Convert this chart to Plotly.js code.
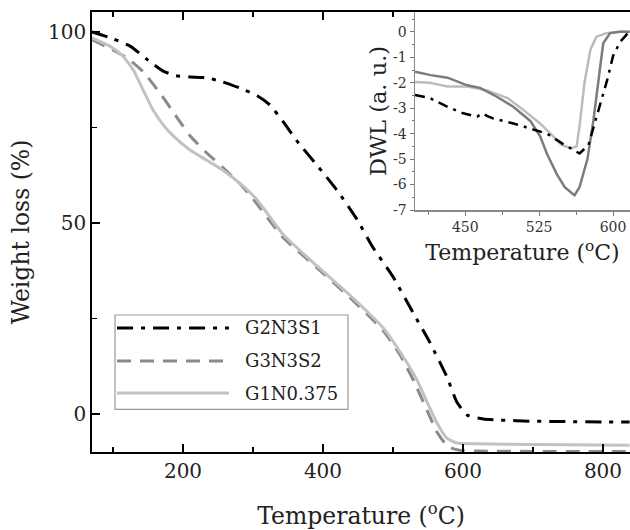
<!DOCTYPE html>
<html>
<head>
<meta charset="utf-8">
<script src="https://cdn.plot.ly/plotly-3.0.1.min.js"></script>
<style>html,body{margin:0;padding:0;background:#fff;}</style>
</head>
<body>
<div id="chart" style="width:630px;height:530px;"></div>
<script>
// ---- Series names ----
const seriesNames = ["G2N3S1", "G3N3S2", "G1N0.375"];

// ---- Main TGA curves: temperature (°C) and weight loss (%) ----
const g2n3s1T = [70, 100, 125, 150, 171, 190, 210, 234, 257, 281, 306, 324, 343, 363, 391, 421, 449, 471, 500, 529, 553, 577, 591, 606, 629, 653, 700, 750, 800, 838];
const g2n3s1W = [100, 98.2, 96.2, 92.6, 89.8, 88.5, 88.2, 88, 86.9, 85.3, 83.3, 80.9, 76.5, 71.4, 65.2, 58.3, 50.8, 43.7, 35.9, 26.4, 18.6, 9.7, 3.2, -0.3, -1.3, -1.6, -1.9, -2.0, -2.1, -2.1];

const g3n3s2T = [70, 96, 120, 143, 167, 191, 210, 234, 257, 281, 300, 343, 391, 439, 486, 510, 530, 549, 563, 574, 582, 595, 620, 700, 838];
const g3n3s2W = [98, 95.6, 93.2, 89.6, 84, 77.7, 72.8, 68.3, 64.5, 60.3, 56.3, 46.2, 38.3, 30.4, 21.8, 15.5, 8.5, 0.8, -4.8, -7.6, -8.8, -9.5, -9.7, -9.8, -9.8];

const g1n0375T = [70, 96, 114, 129, 143, 157, 172, 186, 210, 234, 257, 286, 306, 343, 391, 439, 486, 510, 534, 549, 563, 577, 591, 620, 700, 838];
const g1n0375W = [98.4, 96.2, 93.7, 90, 84.8, 79.6, 75.6, 72.8, 69.1, 66.4, 63.8, 59.6, 56, 47, 38.8, 31, 22.5, 16.3, 9, 3, -2.4, -6.3, -7.6, -7.8, -8.0, -8.2];

// ---- Inset DWL curves ----
const dwlG2n3s1T = [399, 414, 432, 448, 462, 468, 472, 478, 499, 516, 533, 549, 563, 566, 575, 580, 587, 594, 600, 607, 615, 617];
const dwlG2n3s1D = [-2.48, -2.6, -2.95, -3.2, -3.33, -3.2, -3.3, -3.4, -3.6, -3.8, -4.0, -4.4, -4.72, -4.78, -4.45, -3.8, -2.8, -1.9, -0.95, -0.4, -0.05, 0];

const dwlG3n3s2T = [399, 415, 432, 452, 465, 482, 499, 516, 526, 533, 543, 551, 558, 561, 566, 574, 580, 585, 590, 597, 607, 617];
const dwlG3n3s2D = [-1.57, -1.7, -1.8, -2.1, -2.2, -2.55, -2.95, -3.5, -4.1, -4.8, -5.6, -6.1, -6.33, -6.42, -6.1, -5.0, -3.5, -1.9, -0.45, -0.05, 0, 0];

const dwlG1n0375T = [399, 414, 432, 452, 472, 493, 509, 526, 539, 548, 558, 563, 566, 571, 577, 583, 593, 607, 617];
const dwlG1n0375D = [-1.97, -2.0, -2.15, -2.15, -2.3, -2.6, -3.07, -3.6, -4.1, -4.45, -4.57, -4.5, -3.7, -2.0, -0.7, -0.2, -0.05, 0, 0];

// ---- Tick labels ----
const mainXTicks = [200, 400, 600, 800];
const mainYTicks = [0, 50, 100];
const insetXTicks = [450, 525, 600];
const insetYTicks = [0, -1, -2, -3, -4, -5, -6, -7];
const insetYTickText = ["0", "-1", "-2", "-3", "-4", "-5", "-6", "-7"];

const FONT = "DejaVu Serif, Liberation Serif, serif";
const colBlack = "#000000", colMid = "#8a8a8a", colLight = "#c2c2c2";
const colInsetDark = "#7c7c7c", colInsetLight = "#bcbcbc";
const dashDot = "16px,8px,4px,8px";
const dashed = "14px,9px";

const traces = [
  {x: g2n3s1T, y: g2n3s1W, mode: "lines", line: {color: colBlack, width: 3, dash: dashDot, shape: "spline", smoothing: 0.5}, name: seriesNames[0], xaxis: "x", yaxis: "y"},
  {x: g3n3s2T, y: g3n3s2W, mode: "lines", line: {color: colMid, width: 3, dash: dashed, shape: "spline", smoothing: 0.5}, name: seriesNames[1], xaxis: "x", yaxis: "y"},
  {x: g1n0375T, y: g1n0375W, mode: "lines", line: {color: colLight, width: 3, shape: "spline", smoothing: 0.5}, name: seriesNames[2], xaxis: "x", yaxis: "y"},
  {x: dwlG1n0375T, y: dwlG1n0375D, mode: "lines", line: {color: colInsetLight, width: 2.5}, name: seriesNames[2], xaxis: "x2", yaxis: "y2"},
  {x: dwlG3n3s2T, y: dwlG3n3s2D, mode: "lines", line: {color: colInsetDark, width: 2.5}, name: seriesNames[1], xaxis: "x2", yaxis: "y2"},
  {x: dwlG2n3s1T, y: dwlG2n3s1D, mode: "lines", line: {color: colBlack, width: 2.5, dash: "10px,6px,3px,6px"}, name: seriesNames[0], xaxis: "x2", yaxis: "y2"}
];

// custom legend geometry (paper coordinates)
const legY = [0.282, 0.207, 0.134];
const legDash = [dashDot, dashed, "solid"];
const legColor = [colBlack, colMid, colLight];
const shapes = [
  {type: "rect", xref: "paper", yref: "paper", x0: 0.0428, x1: 0.4758, y0: 0.097, y1: 0.3114, line: {color: "#999", width: 1.2}, fillcolor: "#ffffff", layer: "above"}
];
const annotations = [];
for (let i = 0; i < seriesNames.length; i++) {
  shapes.push({type: "line", xref: "paper", yref: "paper", x0: 0.0465, x1: 0.2545, y0: legY[i], y1: legY[i], line: {color: legColor[i], width: 3, dash: legDash[i]}, layer: "above"});
  annotations.push({xref: "paper", yref: "paper", x: 0.2807, y: legY[i], xanchor: "left", yanchor: "middle", text: seriesNames[i], showarrow: false, font: {family: FONT, size: 18, color: "#222"}});
}

const layout = {
  width: 630, height: 530,
  margin: {l: 92, r: 0, t: 12, b: 78},
  paper_bgcolor: "#ffffff", plot_bgcolor: "#ffffff",
  showlegend: false,
  font: {family: FONT, color: "#222"},
  xaxis: {
    domain: [0, 1], range: [70, 838.6], anchor: "y",
    tickmode: "array", tickvals: mainXTicks,
    ticks: "inside", ticklen: 8, tickwidth: 1.5, tickcolor: "#000",
    minor: {dtick: 100, tick0: 0, ticks: "inside", ticklen: 5, tickwidth: 1.5, tickcolor: "#000"},
    showline: true, linecolor: "#000", linewidth: 1.8, mirror: "ticks",
    showgrid: false, zeroline: false,
    tickfont: {family: FONT, size: 20, color: "#222"},
    title: {text: "Temperature (<sup>o</sup>C)", font: {family: FONT, size: 23.5, color: "#222"}, standoff: 26}
  },
  yaxis: {
    domain: [0, 1], range: [-9.95, 105.2], anchor: "x",
    tickmode: "array", tickvals: mainYTicks,
    ticks: "inside", ticklen: 8, tickwidth: 1.5, tickcolor: "#000",
    minor: {dtick: 25, tick0: 0, ticks: "inside", ticklen: 5, tickwidth: 1.5, tickcolor: "#000"},
    showline: true, linecolor: "#000", linewidth: 1.8,
    showgrid: false, zeroline: false,
    tickfont: {family: FONT, size: 20, color: "#222"},
    title: {text: "Weight loss (%)", font: {family: FONT, size: 23.5, color: "#222"}, standoff: 12}
  },
  xaxis2: {
    domain: [0.6004, 1], range: [399, 617.2], anchor: "y2",
    tickmode: "array", tickvals: insetXTicks,
    ticks: "outside", ticklen: 4, tickwidth: 1, tickcolor: "#777",
    minor: {dtick: 75, tick0: 412.5, ticks: "outside", ticklen: 3, tickwidth: 1, tickcolor: "#777"},
    showline: true, linecolor: "#888", linewidth: 1.5,
    showgrid: false, zeroline: false,
    tickfont: {family: FONT, size: 14, color: "#333"},
    title: {text: "Temperature (<sup>o</sup>C)", font: {family: FONT, size: 22, color: "#222"}, standoff: 10}
  },
  yaxis2: {
    domain: [0.55, 1], range: [-7, 0.78], anchor: "x2",
    tickmode: "array", tickvals: insetYTicks, ticktext: insetYTickText,
    ticks: "outside", ticklen: 4, tickwidth: 1, tickcolor: "#777",
    minor: {dtick: 0.5, tick0: 0, ticks: "outside", ticklen: 2, tickwidth: 1, tickcolor: "#777"},
    showline: true, linecolor: "#888", linewidth: 1.5,
    showgrid: false, zeroline: false,
    tickfont: {family: FONT, size: 14, color: "#333"},
    title: {text: "DWL (a. u.)", font: {family: FONT, size: 22.5, color: "#222"}, standoff: 0}
  },
  shapes: shapes,
  annotations: annotations
};

Plotly.newPlot("chart", traces, layout, {displayModeBar: false, staticPlot: true});
</script>
</body>
</html>
